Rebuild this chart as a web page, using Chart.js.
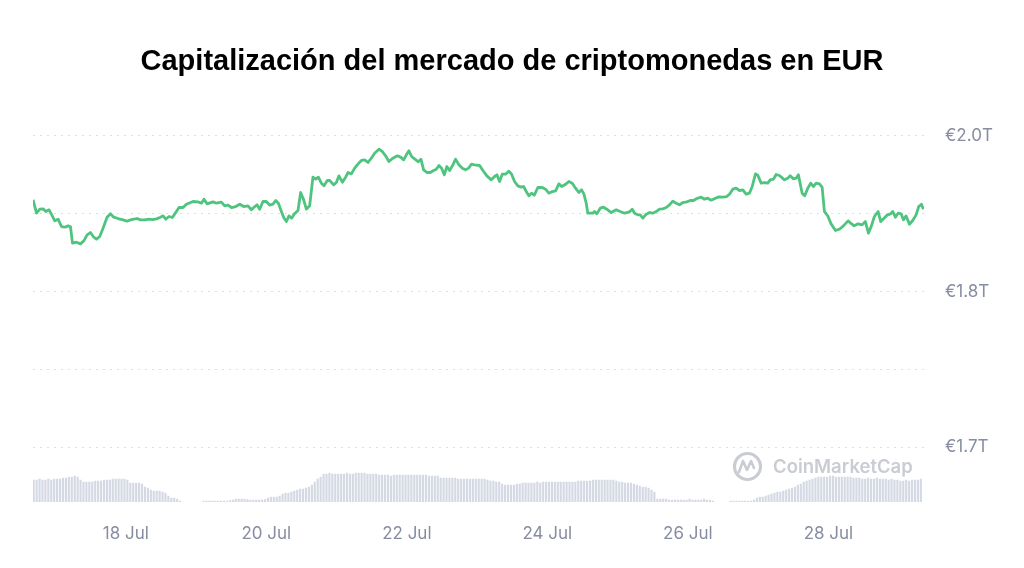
<!DOCTYPE html>
<html lang="es">
<head>
  <meta charset="UTF-8">
  <title>Capitalización del mercado de criptomonedas en EUR</title>
  <script src="https://cdn.jsdelivr.net/npm/chart.js"></script>
  <style>
    html, body { margin: 0; padding: 0; background: #fff; }
    #wrap { width: 1024px; height: 568px; position: relative; }
  </style>
</head>
<body>
  <div id="wrap"><canvas id="capChart"></canvas></div>

  <script>
    // x = day of July (fractional), y = market cap in trillions EUR
    const lineDays = [
      16.681,16.730,16.777,16.824,16.862,16.909,16.947,16.990,17.037,17.085,17.132,17.179,17.213,17.242,17.299,17.356,
      17.403,17.450,17.498,17.545,17.583,17.630,17.677,17.734,17.782,17.829,17.890,17.962,18.018,18.067,18.114,18.161,
      18.209,18.270,18.331,18.380,18.437,18.494,18.531,18.569,18.616,18.664,18.711,18.758,18.815,18.863,18.957,19.028,
      19.077,19.114,19.157,19.242,19.290,19.361,19.408,19.455,19.504,19.565,19.622,19.679,19.740,19.788,19.821,19.868,
      19.906,19.953,20.001,20.048,20.095,20.134,20.172,20.215,20.248,20.286,20.323,20.361,20.400,20.451,20.489,20.532,
      20.570,20.617,20.664,20.703,20.741,20.784,20.821,20.869,20.902,20.959,20.997,21.034,21.083,21.129,21.162,21.211,
      21.258,21.304,21.353,21.400,21.447,21.495,21.542,21.603,21.651,21.698,21.745,21.802,21.865,21.912,21.955,21.993,
      22.030,22.068,22.115,22.164,22.201,22.239,22.286,22.334,22.381,22.420,22.457,22.495,22.533,22.570,22.609,22.656,
      22.694,22.741,22.790,22.836,22.883,22.918,22.964,23.036,23.083,23.139,23.202,23.249,23.282,23.320,23.358,23.405,
      23.452,23.491,23.533,23.580,23.629,23.662,23.700,23.737,23.775,23.814,23.865,23.928,23.974,24.021,24.070,24.117,
      24.164,24.202,24.249,24.306,24.354,24.401,24.448,24.487,24.519,24.553,24.576,24.647,24.671,24.704,24.753,24.799,
      24.846,24.909,24.980,25.037,25.098,25.169,25.208,25.240,25.287,25.321,25.359,25.407,25.454,25.501,25.549,25.596,
      25.643,25.691,25.738,25.785,25.834,25.881,25.928,25.984,26.033,26.080,26.127,26.189,26.236,26.283,26.331,26.393,
      26.440,26.496,26.553,26.592,26.639,26.687,26.734,26.781,26.829,26.876,26.915,26.962,26.994,27.043,27.090,27.137,
      27.171,27.218,27.256,27.303,27.374,27.421,27.455,27.502,27.541,27.573,27.597,27.626,27.663,27.706,27.748,27.787,
      27.825,27.872,27.910,27.943,27.990,28.038,28.100,28.157,28.213,28.280,28.317,28.366,28.423,28.479,28.526,28.569,
      28.612,28.654,28.707,28.744,28.792,28.839,28.886,28.915,28.953,28.992,29.034,29.067,29.105,29.152,29.199,29.248,
      29.285,29.323,29.351
    ];
    const lineValues = [
      1.9024,1.8904,1.8940,1.8943,1.8919,1.8934,1.8889,1.8835,1.8850,1.8784,1.8778,1.8790,1.8784,1.8634,1.8643,1.8628,
      1.8655,1.8709,1.8730,1.8688,1.8670,1.8694,1.8769,1.8868,1.8898,1.8868,1.8856,1.8844,1.8832,1.8844,1.8850,1.8856,
      1.8844,1.8844,1.8850,1.8847,1.8853,1.8868,1.8880,1.8850,1.8874,1.8865,1.8910,1.8955,1.8955,1.8985,1.9009,1.9006,
      1.8994,1.9030,1.8988,1.9006,1.8994,1.9003,1.8970,1.8976,1.8955,1.8964,1.8985,1.8964,1.8970,1.8934,1.8955,1.8979,
      1.8940,1.9009,1.9009,1.8976,1.8985,1.9018,1.8994,1.8919,1.8865,1.8829,1.8880,1.8859,1.8898,1.8928,1.9090,1.9024,
      1.8940,1.8970,1.9228,1.9210,1.9228,1.9174,1.9150,1.9198,1.9198,1.9159,1.9180,1.9240,1.9183,1.9228,1.9270,1.9258,
      1.9309,1.9345,1.9378,1.9384,1.9360,1.9399,1.9444,1.9480,1.9459,1.9420,1.9369,1.9399,1.9420,1.9408,1.9384,1.9429,
      1.9465,1.9414,1.9390,1.9366,1.9390,1.9294,1.9270,1.9270,1.9288,1.9300,1.9333,1.9309,1.9249,1.9324,1.9288,1.9339,
      1.9390,1.9339,1.9309,1.9294,1.9312,1.9345,1.9339,1.9333,1.9288,1.9240,1.9204,1.9234,1.9249,1.9189,1.9255,1.9255,
      1.9282,1.9255,1.9189,1.9150,1.9138,1.9144,1.9099,1.9060,1.9084,1.9066,1.9135,1.9135,1.9120,1.9084,1.9099,1.9105,
      1.9168,1.9144,1.9159,1.9189,1.9174,1.9129,1.9090,1.9114,1.9078,1.8994,1.8904,1.8904,1.8919,1.8898,1.8949,1.8958,
      1.8940,1.8910,1.8934,1.8919,1.8904,1.8916,1.8940,1.8904,1.8889,1.8889,1.8859,1.8895,1.8910,1.8904,1.8919,1.8940,
      1.8943,1.8955,1.8979,1.9012,1.8994,1.8979,1.9000,1.9006,1.9018,1.9018,1.9036,1.9048,1.9030,1.9039,1.9021,1.9039,
      1.9051,1.9048,1.9054,1.9075,1.9120,1.9129,1.9108,1.9114,1.9075,1.9084,1.9144,1.9258,1.9246,1.9174,1.9180,1.9174,
      1.9204,1.9210,1.9252,1.9243,1.9204,1.9219,1.9240,1.9213,1.9219,1.9249,1.9174,1.9084,1.9060,1.9129,1.9174,1.9144,
      1.9174,1.9168,1.9138,1.8919,1.8880,1.8808,1.8748,1.8760,1.8790,1.8835,1.8814,1.8790,1.8808,1.8799,1.8829,1.8724,
      1.8790,1.8874,1.8919,1.8829,1.8859,1.8889,1.8898,1.8919,1.8868,1.8904,1.8898,1.8844,1.8880,1.8805,1.8838,1.8889,
      1.8964,1.8985,1.8940
    ];

    // hourly volume bars (relative units), null = no data
    const volumeStartDay = 16.69;
    const volumeValues = [
      22,22,23,22,22,23,22, 23,23,23,24, 24,25,25,26,25, 22, 20,20,20,20, 21,21,21,22,22, 22,23,23,23,23,23, 22,
      19,19,19,19, 18, 15,14, 12,11,11,11, 10,9, 6,4,4,3,1,
      null,null,null,null,null,null,null,
      1,1,1,1,1,1,1,1,1, 1.5, 2,3,3,3,3,2.5,2, 2,2,2,2,2.5, 4,5,5,5,6, 8,9,9,10, 11,12,13,13,14,
      15,17,20,23,25, 28,28,29,28,
      28,28,28,28,29,28,28,29,29,29,29,28,28,28,28,
      27,27,27,27,26,27,27,27,27,27,27,27,27,27,27,27,27,26,26,26,26,
      24,24,24,24,24,24,23,23,23,23,23,23,23,23,23,23,22,
      21,21,20,20, 18,17,17,17,17, 18,18,19,19,19,19,19,20,19,
      20,20,20,20,20,20,20,20,20,20,20,20,21,21,21,21,21,
      22,22,22,22,22,22,22,22,21, 20,20,19,19,19,18, 17,16,15,15,14, 12,10,
      3,3,3,3,2,2,2,2,2,2,2,3,2,2,2,2,3,2,2,1,
      null,null,null,null,null,
      1,1,1,1,1,1,1,1,2, 4,5,5,6,7, 8,9,10,10,11, 12,13,14,15, 17,18,20,21, 22,23,
      24,25,25,25,25,26,26,25,25,25,25,25,25,24,
      24,24,23,23,24,23,23,24,23,23,23,22,23,22,
      22,21,21,22,21,22,22,22,23
    ];

    const xTickDays = [18, 20, 22, 24, 26, 28];
    const xTickLabels = ['18 Jul', '20 Jul', '22 Jul', '24 Jul', '26 Jul', '28 Jul'];
    const yTickValues = [1.68, 1.75, 1.82, 1.89, 1.96];
    const yTickLabels = ['€1.7T', '', '€1.8T', '', '€2.0T'];

    const lineData = lineDays.map((d, i) => ({ x: d, y: lineValues[i] }));
    const volumeData = volumeValues.map((v, i) => ({ x: volumeStartDay + i / 24, y: v }));

    const axisColor = '#868da1';

    // CoinMarketCap watermark behind the data
    const watermark = {
      id: 'watermark',
      beforeDatasetsDraw(chart) {
        const c = chart.ctx;
        c.save();
        c.strokeStyle = '#c9ccd3';
        c.lineWidth = 3.2;
        c.beginPath();
        c.arc(747.5, 466.5, 13, 0, Math.PI * 2);
        c.stroke();
        c.lineWidth = 2.6;
        c.lineJoin = 'round';
        c.lineCap = 'round';
        c.beginPath();
        c.moveTo(739, 472);
        c.lineTo(743, 461);
        c.lineTo(747, 470);
        c.lineTo(751, 461);
        c.lineTo(754, 468);
        c.stroke();
        c.fillStyle = '#c9ccd3';
        c.font = '600 18.5px Inter, "Open Sans", sans-serif';
        c.textBaseline = 'middle';
        c.fillText('CoinMarketCap', 773, 467);
        c.restore();
      }
    };

    const ctx = document.getElementById('capChart').getContext('2d');
    new Chart(ctx, {
      data: {
        datasets: [
          {
            type: 'line',
            data: lineData,
            yAxisID: 'y',
            borderColor: '#4ec47e',
            borderWidth: 2.8,
            borderJoinStyle: 'round',
            pointRadius: 0,
            tension: 0,
            order: 1
          },
          {
            type: 'bar',
            data: volumeData,
            yAxisID: 'y2',
            backgroundColor: '#d4d9e4',
            barThickness: 1.5,
            order: 2
          }
        ]
      },
      options: {
        responsive: true,
        maintainAspectRatio: false,
        animation: false,
        layout: { padding: 0 },
        plugins: {
          legend: { display: false },
          tooltip: { enabled: false },
          title: {
            display: true,
            text: 'Capitalización del mercado de criptomonedas en EUR',
            color: '#000',
            font: { family: '"Liberation Sans", Arial, sans-serif', size: 29, weight: 'bold' },
            padding: { top: 45, bottom: 20 }
          }
        },
        scales: {
          x: {
            type: 'linear',
            offset: false,
            min: 16.68,
            max: 29.36,
            grid: { display: false, drawTicks: false },
            border: { display: false },
            afterBuildTicks: s => { s.ticks = xTickDays.map(v => ({ value: v })); },
            afterFit: s => { s.height = 66; },
            ticks: {
              color: axisColor,
              padding: 22,
              maxRotation: 0,
              autoSkip: false,
              font: { family: 'Inter, sans-serif', size: 17 },
              callback: v => xTickLabels[xTickDays.indexOf(v)]
            }
          },
          y: {
            position: 'right',
            min: 1.6306,
            max: 1.9924,
            grid: { color: '#dcdfe5', lineWidth: 1, drawTicks: false },
            border: { display: false, dash: [2, 5] },
            afterBuildTicks: s => { s.ticks = yTickValues.map(v => ({ value: v })); },
            afterFit: s => { s.width = 100; },
            ticks: {
              color: axisColor,
              padding: 21,
              font: { family: 'Inter, sans-serif', size: 17 },
              callback: v => yTickLabels[yTickValues.indexOf(v)]
            }
          },
          y2: {
            position: 'left',
            min: 0,
            max: 402,
            grid: { display: false, drawTicks: false },
            border: { display: false },
            ticks: { display: false },
            afterFit: s => { s.width = 33; }
          }
        }
      },
      plugins: [watermark]
    });
  </script>
</body>
</html>
